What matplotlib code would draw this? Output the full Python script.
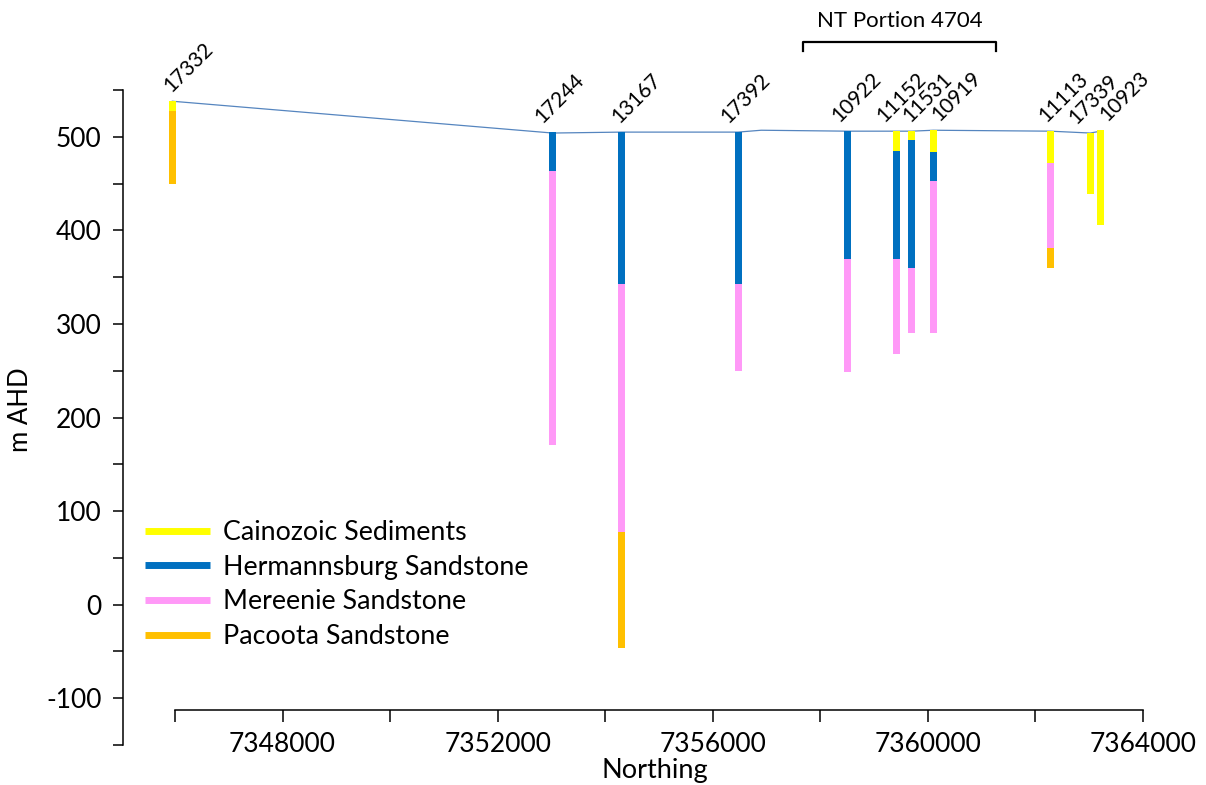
import numpy as np
import matplotlib
matplotlib.use("Agg")
import matplotlib.pyplot as plt
from matplotlib.ticker import MultipleLocator, FuncFormatter
from matplotlib.lines import Line2D

plt.rcParams['font.family'] = ['Lato', 'DejaVu Sans']

# Bore names and their northings
wells = ["17332", "17244", "13167", "17392", "10922", "11152",
         "11531", "10919", "11113", "17339", "10923"]
northing = [7345950, 7353020, 7354300, 7356470, 7358510, 7359410,
            7359700, 7360100, 7362280, 7363020, 7363210]

# Collar elevation and base of each unit (m AHD), nan where the unit is absent
collar = [538, 505, 505, 505, 506, 506, 506, 507, 506, 504, 507]
cainozoic_base = [528, np.nan, np.nan, np.nan, np.nan, 485, 497, 484, 472, 439, 406]
hermannsburg_base = [np.nan, 463, 343, 343, 369, 369, 360, 453, np.nan, np.nan, np.nan]
mereenie_base = [np.nan, 171, 78, 250, 249, 268, 290, 290, 381, np.nan, np.nan]
pacoota_base = [450, np.nan, -46, np.nan, np.nan, np.nan, np.nan, np.nan, 360, np.nan, np.nan]

# Ground surface profile
surface_n = [7345950, 7353020, 7354300, 7356470, 7356900, 7358510, 7359410,
             7359700, 7360100, 7362280, 7363020, 7363210]
surface_z = [538, 504, 505, 505, 507, 506, 506, 506, 507, 506, 504, 506]

units = ["Cainozoic Sediments", "Hermannsburg Sandstone",
         "Mereenie Sandstone", "Pacoota Sandstone"]
unit_colors = ["#FFFF00", "#0070C0", "#FF99F7", "#FFC000"]
unit_bases = [cainozoic_base, hermannsburg_base, mereenie_base, pacoota_base]

portion_label = "NT Portion 4704"
portion_start = 7357680
portion_end = 7361270

# horizontal nudge of each bore label (pixels)
label_dx = [-1, -10, -2, -10, -8, -12, -1, 6, -4, -14, 7]

fig = plt.figure(figsize=(12.06, 7.85), dpi=100)
W, H = 1206, 785
px = 72 / fig.dpi
ax = fig.add_axes([123 / W, (H - 745) / H, (1143 - 123) / W, (745 - 90) / H])
ax.set_xlim(7345033, 7364000)
ax.set_ylim(-150, 550)

bar_w = 130
for i in range(len(wells)):
    top = collar[i]
    for bases, col in zip(unit_bases, unit_colors):
        base = bases[i]
        if np.isnan(base):
            continue
        ax.bar(northing[i], top - base, bottom=base, width=bar_w,
               color=col, linewidth=0, zorder=3)
        top = base
    ax.annotate(wells[i], (northing[i], collar[i]),
                xytext=(label_dx[i] * px, 8 * px),
                textcoords="offset points", rotation=45, ha="left",
                va="baseline", rotation_mode="anchor", fontsize=15,
                color="black", annotation_clip=False)

ax.plot(surface_n, surface_z, color="#5585BF", lw=0.9, zorder=2)

# bracket marking the property
bz = 601
ax.plot([portion_start, portion_start, portion_end, portion_end],
        [bz - 9, bz, bz, bz - 9], color="black", lw=1.6, clip_on=False)
ax.text((portion_start + portion_end) / 2, bz + 23, portion_label,
        ha="center", va="center", fontsize=16)

# axes in the spreadsheet style: detached x axis, ticks outside
for s in ["top", "right"]:
    ax.spines[s].set_visible(False)
ax.spines["left"].set_linewidth(1.1)
ax.spines["bottom"].set_linewidth(1.1)
ax.spines["bottom"].set_position(("data", -113))
ax.spines["bottom"].set_bounds(7346000, 7364000)

ax.yaxis.set_major_locator(MultipleLocator(100))
ax.yaxis.set_minor_locator(MultipleLocator(50))
ax.set_xticks([7348000, 7352000, 7356000, 7360000, 7364000])
ax.set_xticks(np.arange(7346000, 7364001, 2000), minor=True)
ax.xaxis.set_major_formatter(FuncFormatter(lambda v, p: f"{v:.0f}"))
ax.yaxis.set_major_formatter(FuncFormatter(lambda v, p: f"{v:.0f}" if v <= 500 else ""))
ax.tick_params(axis="both", which="both", direction="out", width=1.1,
               labelsize=19, color="black")
ax.tick_params(axis="y", which="both", length=7.5, pad=8)
ax.tick_params(axis="x", which="both", length=8.5, pad=7)

fig.text(20 / W, (H - 410) / H, "m AHD", rotation=90, ha="center",
         va="center", fontsize=18.5)
fig.text(655 / W, 2 / H, "Northing", ha="center", va="bottom",
         fontsize=19.5)

handles = [Line2D([], [], color=c, lw=5, solid_capstyle="butt")
           for c in unit_colors]
fig.legend(handles, units, loc="upper left",
           bbox_to_anchor=(145 / W, (H - 520) / H), frameon=False,
           fontsize=19.3, handlelength=2.43, handletextpad=0.49,
           labelspacing=0.36, borderpad=0, borderaxespad=0)

fig.savefig("out.png", dpi=100)
